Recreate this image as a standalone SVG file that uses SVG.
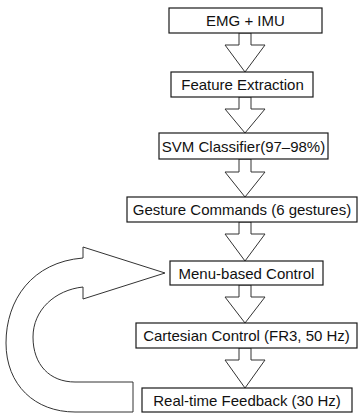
<svg xmlns="http://www.w3.org/2000/svg" width="362" height="413" viewBox="0 0 362 413">
<style>
.box{fill:#fff;stroke:#1a1a1a;stroke-width:1.2}
.lbl{font-family:"Liberation Sans",Arial,sans-serif;font-size:15px;fill:#111;text-anchor:middle}
.arr{fill:#fff;stroke:#333;stroke-width:1;stroke-linejoin:miter}
</style>
<rect width="362" height="413" fill="#fff"/>
<g id="connectors">
<polygon class="arr" points="239,33 251,33 251,45 265,45 245,72 225,45 239,45"/>
<polygon class="arr" points="239,97 251,97 251,109 265,109 245,133 225,109 239,109"/>
<polygon class="arr" points="239,159 251,159 251,172 265,172 245,197 225,172 239,172"/>
<polygon class="arr" points="239,222 251,222 251,234 265,234 245,261 225,234 239,234"/>
<polygon class="arr" points="239,285 251,285 251,297 265,297 245,323 225,297 239,297"/>
<polygon class="arr" points="239,348 251,348 251,360 265,360 245,388 225,360 239,360"/>
<path class="arr" d="M133,412 L75,412 C35,412 6,385 6,343 C6,300 32,262 83,258 L83,247 L165,273 L83,299 L83,287 C55,290 33,310 33,337 C33,365 50,382 75,382 L133,382 Z"/>
</g>
<g id="n1"><rect class="box" x="169" y="8" width="153" height="25"/><text class="lbl" x="245.5" y="26">EMG + IMU</text></g>
<g id="n2"><rect class="box" x="171" y="72" width="142" height="25"/><text class="lbl" x="242.5" y="90">Feature Extraction</text></g>
<g id="n3"><rect class="box" x="159" y="133" width="169" height="26"/><text class="lbl" x="243.5" y="151.5">SVM Classifier(97–98%)</text></g>
<g id="n4"><rect class="box" x="127" y="197" width="230" height="25"/><text class="lbl" x="242" y="215">Gesture Commands (6 gestures)</text></g>
<g id="n5"><rect class="box" x="170" y="261" width="153" height="24"/><text class="lbl" x="246.5" y="278.5">Menu-based Control</text></g>
<g id="n6"><rect class="box" x="136" y="323" width="221" height="25"/><text class="lbl" x="246.5" y="341">Cartesian Control (FR3, 50 Hz)</text></g>
<g id="n7"><rect class="box" x="142" y="388" width="210" height="24"/><text class="lbl" x="247" y="405.5">Real-time Feedback (30 Hz)</text></g>
</svg>
